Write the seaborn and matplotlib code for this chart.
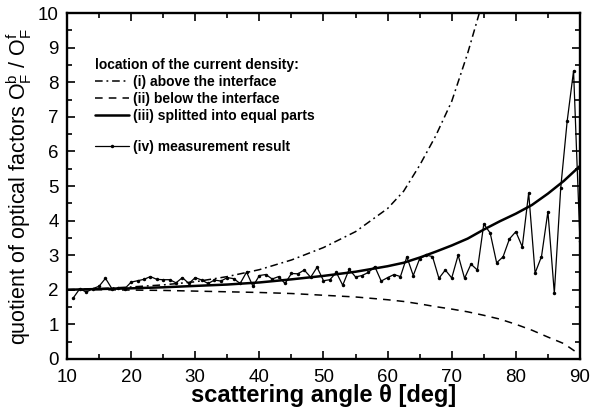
import matplotlib
matplotlib.use('Agg')
import matplotlib.pyplot as plt
from matplotlib.lines import Line2D
from matplotlib.ticker import MultipleLocator
import pandas as pd
import seaborn as sns

# -------------------------
# data
# -------------------------
# theoretical curves (i)-(iii), sampled at a few angles
theory_angle = [10, 15, 20, 25, 30, 35, 40, 45, 50, 55, 60, 62.5, 65, 67.5,
                70, 72.5, 75, 77.5, 80, 82.5, 85, 87.5, 90]
below_vals = [2.00, 2.00, 1.99, 1.98, 1.96, 1.94, 1.92, 1.89, 1.84, 1.79, 1.71,
              1.66, 1.59, 1.51, 1.44, 1.36, 1.26, 1.15, 1.00, 0.83, 0.63, 0.44, 0.12]
split_vals = [2.00, 2.02, 2.04, 2.07, 2.11, 2.15, 2.21, 2.30, 2.40, 2.52, 2.68,
              2.78, 2.93, 3.10, 3.28, 3.48, 3.74, 3.98, 4.20, 4.45, 4.78, 5.15, 5.58]

above_angle = [10, 15, 20, 25, 30, 35, 40, 45, 50, 55, 60, 62.5, 65, 67.5,
               70, 72.5, 75]
above_vals = [2.00, 2.03, 2.08, 2.14, 2.23, 2.38, 2.58, 2.86, 3.22, 3.68, 4.35,
              4.85, 5.60, 6.45, 7.45, 8.85, 10.45]

# measurement (iv), one point per degree from 11 to 90
meas_angle = list(range(11, 91))
meas_vals = [1.77, 2.03, 1.93, 2.03, 2.10, 2.33, 2.03, 2.05, 2.03, 2.22,
             2.26, 2.30, 2.38, 2.30, 2.29, 2.29, 2.20, 2.35, 2.18, 2.35,
             2.28, 2.18, 2.28, 2.25, 2.35, 2.32, 2.18, 2.51, 2.10, 2.41,
             2.44, 2.31, 2.38, 2.18, 2.47, 2.46, 2.57, 2.36, 2.65, 2.26,
             2.29, 2.50, 2.13, 2.59, 2.37, 2.41, 2.50, 2.67, 2.25, 2.35,
             2.44, 2.38, 2.95, 2.41, 2.90, 3.00, 2.96, 2.33, 2.57, 2.34,
             3.00, 2.33, 2.74, 2.57, 3.90, 3.64, 2.78, 2.95, 3.47, 3.68,
             3.24, 4.80, 2.48, 2.96, 4.26, 1.90, 4.95, 6.87, 8.33, 3.40]

legend_title = 'location of the current density:'
labels = ['(i) above the interface', '(ii) below the interface',
          '(iii) splitted into equal parts', '(iv) measurement result']

# -------------------------
# style
# -------------------------
sns.set_style('ticks', {'text.color': 'black', 'axes.labelcolor': 'black',
                        'axes.edgecolor': 'black', 'xtick.color': 'black',
                        'ytick.color': 'black'})
plt.rcParams['font.family'] = ['Liberation Sans', 'DejaVu Sans']
plt.rcParams['mathtext.fontset'] = 'custom'
plt.rcParams['mathtext.rm'] = 'Liberation Sans'
plt.rcParams['mathtext.it'] = 'Liberation Sans:italic'
plt.rcParams['mathtext.bf'] = 'Liberation Sans:bold'

fig, ax = plt.subplots(figsize=(5.9, 4.12), dpi=100)
fig.subplots_adjust(left=0.1136, right=0.983, bottom=0.129, top=0.968)

above = pd.DataFrame({'angle': above_angle, 'q': above_vals})
theory = pd.DataFrame({'angle': theory_angle, 'below': below_vals, 'split': split_vals})
meas = pd.DataFrame({'angle': meas_angle, 'q': meas_vals})

dashdot = (0, (5, 2.5, 1.2, 2.5))
dashed = (0, (5, 4))

sns.lineplot(data=above, x='angle', y='q', ax=ax, color='black', lw=1.1,
             linestyle=dashdot)
sns.lineplot(data=theory, x='angle', y='below', ax=ax, color='black', lw=1.1,
             linestyle=dashed)
sns.lineplot(data=theory, x='angle', y='split', ax=ax, color='black', lw=1.8)
sns.lineplot(data=meas, x='angle', y='q', ax=ax, color='black', lw=0.9,
             marker='o', markersize=2.5, markeredgewidth=0)

ax.set_xlim(10, 90)
ax.set_ylim(0, 10)
ax.xaxis.set_major_locator(MultipleLocator(10))
ax.xaxis.set_minor_locator(MultipleLocator(5))
ax.yaxis.set_major_locator(MultipleLocator(1))
ax.yaxis.set_minor_locator(MultipleLocator(0.5))
ax.tick_params(which='both', direction='in', top=True, right=True, width=1.2,
               labelsize=13.5)
ax.tick_params(which='major', length=6)
ax.tick_params(which='minor', length=3.5)
ax.tick_params(axis='x', pad=7)
ax.tick_params(axis='y', pad=6)
for s in ax.spines.values():
    s.set_linewidth(1.7)

ax.set_xlabel('scattering angle θ [deg]', fontsize=17, fontweight='bold',
              labelpad=-1)
ax.set_ylabel(r'quotient of optical factors O$_\mathrm{F}^\mathrm{b}$ / O$_\mathrm{F}^\mathrm{f}$',
              fontsize=15.5, labelpad=3)

# legend: three theory lines under a title, measurement set apart below
h_theory = [Line2D([], [], color='black', lw=1.1, linestyle=dashdot),
            Line2D([], [], color='black', lw=1.1, linestyle=dashed),
            Line2D([], [], color='black', lw=1.8)]
leg1 = ax.legend(h_theory, labels[:3], title=legend_title, loc='upper left',
                 bbox_to_anchor=(0.055, 0.87), frameon=False, alignment='left',
                 prop={'weight': 'bold', 'size': 10},
                 title_fontproperties={'weight': 'bold', 'size': 10},
                 handlelength=2.4, handletextpad=0.3, labelspacing=0.22,
                 borderaxespad=0, borderpad=0)
ax.add_artist(leg1)
h_meas = [Line2D([], [], color='black', lw=0.9, marker='o', markersize=2.5,
                 markeredgewidth=0)]
ax.legend(h_meas, labels[3:], loc='upper left', bbox_to_anchor=(0.055, 0.633),
          frameon=False, prop={'weight': 'bold', 'size': 10},
          handlelength=2.4, handletextpad=0.3, borderaxespad=0, borderpad=0)

plt.savefig('out.png', dpi=100)
